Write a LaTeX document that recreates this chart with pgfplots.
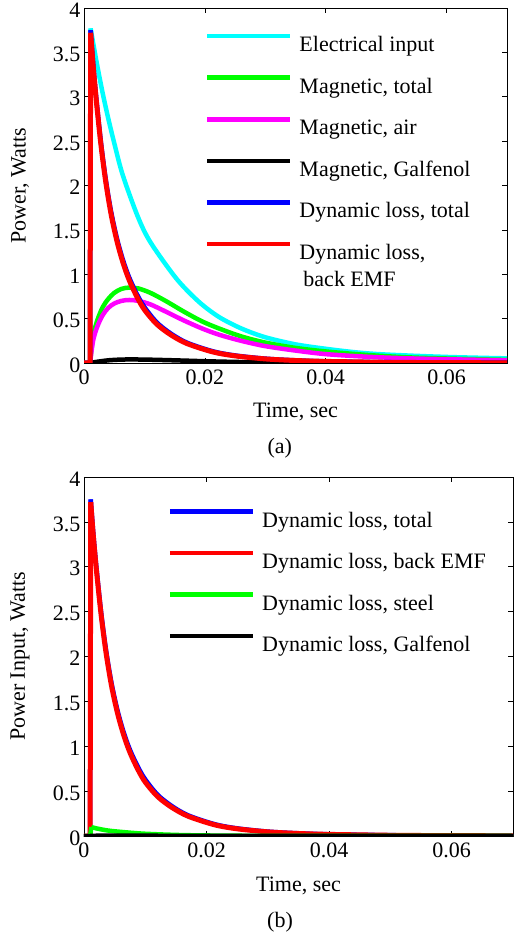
\documentclass[border=0pt]{standalone}
\usepackage{fontspec}
\setmainfont{Liberation Serif}
\usepackage{pgfplots}
\pgfplotsset{compat=1.18}

\definecolor{mcyan}{rgb}{0,1,1}
\definecolor{mgreen}{rgb}{0,1,0}
\definecolor{mmagenta}{rgb}{1,0,1}
\definecolor{mblue}{rgb}{0,0,1}
\definecolor{mred}{rgb}{1,0,0}

\newcommand{\bigfont}{\fontsize{22}{27}\selectfont}

\pgfplotsset{
  mystyle/.style={
    scale only axis,
    clip mode=individual,
    xmin=0, xmax=0.07, ymin=0, ymax=4,
    xtick={0,0.02,0.04,0.06},
    ytick={0,0.5,1,1.5,2,2.5,3,3.5,4},
    tick align=inside,
    major tick length=5pt,
    tick style={black, line width=0.6pt},
    axis line style={line width=0.8pt},
    scaled x ticks=false,
    /pgf/number format/assume math mode=true,
    xticklabel style={/pgf/number format/fixed, /pgf/number format/precision=2, yshift=-3pt},
    yticklabel style={/pgf/number format/fixed, yshift=-2pt},
    tick label style={font=\bigfont},
    label style={font=\bigfont},
    xlabel style={at={([yshift=-55pt]axis description cs:0.5,0)}, anchor=base},
    ylabel style={at={([xshift=-64pt]axis description cs:0,0.5)}, anchor=center},
    legend image code/.code={\draw[##1, line width=4.5pt] (0pt,10pt) -- (83pt,10pt);},
    legend cell align=left,
    legend style={draw=none, fill=none, anchor=north west, font=\bigfont,
      inner sep=0pt, outer sep=0pt,
      row sep=18.8pt, column sep=7pt,
      nodes={inner sep=0pt, text height=16pt, text depth=5pt}},
    every axis plot/.append style={no marks, line width=4.5pt, line join=round},
  }
}

\begin{document}
\begin{tikzpicture}
\useasboundingbox (0,0) rectangle (516pt,937pt);

% ---------- (a) ----------
\begin{axis}[mystyle,
  at={(84pt,574pt)}, anchor=south west,
  width=423pt, height=355pt,
  xlabel={Time, sec}, ylabel={Power, Watts},
  legend style={at={(0.286,0.927)}}]
% Electrical input
\addplot[mcyan, forget plot] coordinates {(0,0) (0.0010,0) (0.0011,3.77)};
\addplot[mcyan, smooth] coordinates {
(0.0011,3.77) (0.0020,3.42) (0.0030,3.07) (0.0040,2.76) (0.0050,2.48)
(0.0064,2.12) (0.0089,1.65) (0.0110,1.36) (0.0153,0.95) (0.0190,0.69)
(0.0223,0.52) (0.0260,0.39) (0.0300,0.29) (0.0350,0.21) (0.0400,0.16)
(0.0450,0.12) (0.0500,0.095) (0.0600,0.068) (0.0700,0.052)};
\addlegendentry{Electrical input}
% Magnetic, total
\addplot[mgreen, forget plot] coordinates {(0,0) (0.0010,0)};
\addplot[mgreen, smooth] coordinates {
(0.0010,0) (0.0015,0.30) (0.0022,0.48) (0.0031,0.63) (0.0040,0.72)
(0.0050,0.79) (0.0062,0.835) (0.0075,0.85) (0.0090,0.84) (0.0110,0.79)
(0.0135,0.70) (0.0165,0.58) (0.0195,0.47) (0.0223,0.39) (0.0260,0.30)
(0.0300,0.23) (0.0350,0.17) (0.0400,0.13) (0.0470,0.09) (0.0550,0.06)
(0.0700,0.035)};
\addlegendentry{Magnetic, total}
% Magnetic, air
\addplot[mmagenta, forget plot] coordinates {(0,0) (0.0010,0)};
\addplot[mmagenta, smooth] coordinates {
(0.0010,0) (0.0015,0.25) (0.0022,0.41) (0.0031,0.54) (0.0040,0.62)
(0.0050,0.67) (0.0062,0.70) (0.0075,0.71) (0.0090,0.70) (0.0110,0.66)
(0.0135,0.58) (0.0165,0.48) (0.0195,0.39) (0.0223,0.32) (0.0260,0.25)
(0.0300,0.19) (0.0350,0.14) (0.0400,0.10) (0.0470,0.07) (0.0550,0.05)
(0.0700,0.03)};
\addlegendentry{Magnetic, air}
% Magnetic, Galfenol
\addplot[black, smooth] coordinates {
(0,0) (0.0010,0) (0.0020,0.012) (0.0040,0.030) (0.0060,0.038) (0.0080,0.040)
(0.0110,0.037) (0.0150,0.030) (0.0200,0.020) (0.0250,0.012) (0.0300,0.007)
(0.0400,0.003) (0.0700,0.001)};
\addlegendentry{Magnetic, Galfenol}
% Dynamic loss, total
\addplot[mblue, forget plot] coordinates {(0,0) (0.0010,0) (0.0011,3.75)};
\addplot[mblue, smooth] coordinates {
(0.0011,3.75) (0.0015,3.39) (0.0020,3.01) (0.0028,2.49) (0.0036,2.07)
(0.0045,1.70) (0.0055,1.39) (0.0065,1.15) (0.0075,0.96) (0.0088,0.77)
(0.0100,0.63) (0.0120,0.46) (0.0143,0.335) (0.0170,0.23) (0.0213,0.132)
(0.0250,0.085) (0.0300,0.049) (0.0350,0.030) (0.0400,0.019) (0.0500,0.009)
(0.0600,0.004) (0.0700,0.002)};
\addlegendentry{Dynamic loss, total}
% Dynamic loss, back EMF
\addplot[mred, line width=5pt, forget plot] coordinates {(0,0) (0.0010,0) (0.0011,3.72)};
\addplot[mred, line width=5pt, smooth] coordinates {
(0.0011,3.72) (0.0015,3.36) (0.0020,2.98) (0.0028,2.46) (0.0036,2.04)
(0.0045,1.67) (0.0055,1.36) (0.0065,1.12) (0.0075,0.93) (0.0088,0.74)
(0.0100,0.60) (0.0120,0.44) (0.0143,0.32) (0.0170,0.22) (0.0213,0.125)
(0.0250,0.080) (0.0300,0.046) (0.0350,0.028) (0.0400,0.018) (0.0500,0.008)
(0.0600,0.004) (0.0700,0.002)};
\addlegendentry{\begin{tabular}[t]{@{}l@{}}Dynamic loss,\\\hspace{4pt}back EMF\end{tabular}}
\node[font=\bigfont, anchor=base] at ([yshift=-91pt]axis description cs:0.463,0) {(a)};
\end{axis}

% ---------- (b) ----------
\begin{axis}[mystyle,
  at={(84pt,101pt)}, anchor=south west,
  width=429pt, height=359pt,
  xlabel={Time, sec}, ylabel={Power Input, Watts},
  legend style={at={(0.195,0.910)}}]
\addplot[mblue, forget plot] coordinates {(0,0) (0.0010,0) (0.0011,3.75)};
\addplot[mblue, smooth] coordinates {
(0.0011,3.75) (0.0015,3.39) (0.0020,3.01) (0.0028,2.49) (0.0036,2.07)
(0.0045,1.70) (0.0055,1.39) (0.0065,1.15) (0.0075,0.96) (0.0088,0.77)
(0.0100,0.63) (0.0120,0.46) (0.0143,0.335) (0.0170,0.23) (0.0213,0.132)
(0.0250,0.085) (0.0300,0.049) (0.0350,0.030) (0.0400,0.019) (0.0500,0.009)
(0.0600,0.004) (0.0700,0.002)};
\addlegendentry{Dynamic loss, total}
\addplot[mred, line width=5pt, forget plot] coordinates {(0,0) (0.0010,0) (0.0011,3.72)};
\addplot[mred, line width=5pt, smooth] coordinates {
(0.0011,3.72) (0.0015,3.36) (0.0020,2.98) (0.0028,2.46) (0.0036,2.04)
(0.0045,1.67) (0.0055,1.36) (0.0065,1.12) (0.0075,0.93) (0.0088,0.74)
(0.0100,0.60) (0.0120,0.44) (0.0143,0.32) (0.0170,0.22) (0.0213,0.125)
(0.0250,0.080) (0.0300,0.046) (0.0350,0.028) (0.0400,0.018) (0.0500,0.008)
(0.0600,0.004) (0.0700,0.002)};
\addlegendentry{Dynamic loss, back EMF}
\addplot[mgreen, forget plot] coordinates {(0,0) (0.0010,0) (0.0012,0.10)};
\addplot[mgreen, smooth] coordinates {
(0.0012,0.10) (0.0020,0.085) (0.0040,0.060) (0.0070,0.040)
(0.0100,0.025) (0.0150,0.012) (0.0200,0.006) (0.0300,0.002) (0.0700,0)};
\addlegendentry{Dynamic loss, steel}
\addplot[black] coordinates {
(0,0) (0.0010,0) (0.0020,0.003) (0.0050,0.004) (0.0100,0.003) (0.0200,0.002)
(0.0400,0.001) (0.0700,0)};
\addlegendentry{Dynamic loss, Galfenol}
\node[font=\bigfont, anchor=base] at ([yshift=-91pt]axis description cs:0.457,0) {(b)};
\end{axis}
\end{tikzpicture}
\end{document}
